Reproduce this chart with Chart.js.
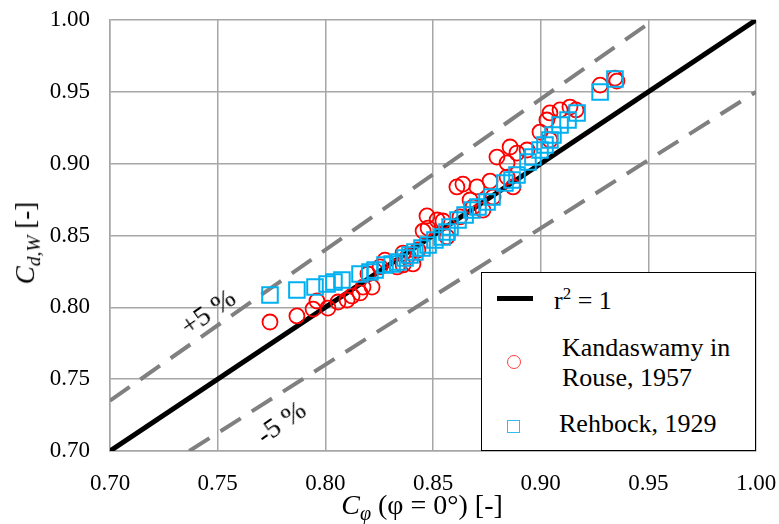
<!DOCTYPE html>
<html>
<head>
    <title>Cd,W vs C phi</title>
    <script src="https://cdn.jsdelivr.net/npm/chart.js"></script>
    <style>
        body {
            margin: 0;
            padding: 0;
            background: #fff;
            font-family: "Liberation Serif", serif;
        }
        #wrap {
            position: relative;
            width: 779px;
            height: 524px;
        }
        .lbl {
            position: absolute;
            color: #000;
            white-space: nowrap;
            line-height: 1;
            font-family: "Liberation Serif", serif;
        }
        .lbl i sub { font-size: 0.72em; }
        #legend {
            position: absolute;
            left: 481px;
            top: 272px;
            width: 273px;
            height: 177px;
            border: 1.5px solid #000;
            background: #fff;
            font-size: 26px;
            font-family: "Liberation Serif", serif;
        }
        #legend .item { position: absolute; line-height: 1; }
        .mk-line { position: absolute; left: 15px; top: 23px; width: 36px; height: 5px; background: #000; }
        .mk-circ { position: absolute; left: 25px; top: 82px; width: 12px; height: 12px; border: 1px solid #ff4040; border-radius: 50%; }
        .mk-sq { position: absolute; left: 25px; top: 147px; width: 11px; height: 11px; border: 1px solid #33bbee; }
    </style>
</head>
<body>

<div id="wrap">
  <canvas id="chart" width="779" height="524"></canvas>

  <!-- axis titles -->
  <div class="lbl" style="font-size:27px; left:28px; top:243px; transform:translate(-50%,-50%) rotate(-90deg);"><i>C<sub>d,W</sub></i> [-]</div>
  <div class="lbl" style="font-size:28px; left:422px; top:507px; transform:translate(-50%,-50%);"><i>C<sub>φ</sub></i> (φ = 0°) [-]</div>

  <!-- band labels -->
  <div class="lbl" style="font-size:28px; left:208px; top:312px; transform:translate(-50%,-50%) rotate(-35deg);">+5 %</div>
  <div class="lbl" style="font-size:28px; left:281px; top:422px; transform:translate(-50%,-50%) rotate(-35deg);">-5 %</div>

  <div id="legend">
    <div class="mk-line"></div>
    <div class="item" style="left:72px; top:13px;">r<sup style="font-size:0.65em">2</sup> = 1</div>
    <div class="mk-circ"></div>
    <div class="item" style="left:80px; top:60px; line-height:30px;">Kandaswamy in<br>Rouse, 1957</div>
    <div class="mk-sq"></div>
    <div class="item" style="left:77px; top:138px;">Rehbock, 1929</div>
  </div>
</div>

<script>
// Kandaswamy in Rouse, 1957 (red circles)
const kandX = [0.7743, 0.7868, 0.7943, 0.7961, 0.8012, 0.8059, 0.8101, 0.8124, 0.8161, 0.8175,
               0.8217, 0.8198, 0.8254, 0.8277, 0.8333, 0.8361, 0.8361, 0.8407, 0.8384, 0.8430,
               0.8454, 0.8472, 0.8519, 0.8477, 0.8565, 0.8546, 0.8611, 0.8639, 0.8672, 0.8625,
               0.8686, 0.8704, 0.8732, 0.8765, 0.8779, 0.8797, 0.8844, 0.8844, 0.8858, 0.8872,
               0.8890, 0.8937, 0.8997, 0.9029, 0.9043, 0.9043, 0.9090, 0.9136, 0.9164, 0.9276,
               0.9345, 0.9354];
const kandY = [0.7898, 0.7940, 0.7988, 0.8044, 0.7995, 0.8037, 0.8051, 0.8079, 0.8100, 0.8141,
               0.8141, 0.8232, 0.8281, 0.8329, 0.8281, 0.8295, 0.8378, 0.8302, 0.8357, 0.8399,
               0.8531, 0.8636, 0.8608, 0.8552, 0.8490, 0.8601, 0.8838, 0.8858, 0.8747, 0.8629,
               0.8698, 0.8838, 0.8677, 0.8879, 0.8768, 0.9046, 0.9005, 0.8907, 0.9116, 0.8838,
               0.9074, 0.9095, 0.9220, 0.9304, 0.9353, 0.9165, 0.9374, 0.9394, 0.9374, 0.9547,
               0.9596, 0.9575];

// Rehbock, 1929 (blue squares)
const rehbX = [0.7743, 0.7868, 0.7952, 0.8008, 0.8040, 0.8077, 0.8161, 0.8207, 0.8231, 0.8277,
               0.8310, 0.8337, 0.8370, 0.8393, 0.8416, 0.8449, 0.8477, 0.8509, 0.8542, 0.8565,
               0.8579, 0.8616, 0.8649, 0.8681, 0.8709, 0.8751, 0.8774, 0.8834, 0.8867, 0.8890,
               0.8941, 0.8964, 0.8997, 0.9020, 0.9043, 0.9057, 0.9090, 0.9127, 0.9169, 0.9276,
               0.9345];
const rehbY = [0.8086, 0.8121, 0.8141, 0.8162, 0.8176, 0.8190, 0.8232, 0.8246, 0.8260, 0.8295,
               0.8302, 0.8315, 0.8343, 0.8364, 0.8385, 0.8413, 0.8434, 0.8469, 0.8490, 0.8524,
               0.8559, 0.8608, 0.8643, 0.8677, 0.8698, 0.8733, 0.8768, 0.8865, 0.8886, 0.8921,
               0.9012, 0.9046, 0.9095, 0.9130, 0.9165, 0.9200, 0.9269, 0.9304, 0.9353, 0.9499,
               0.9589];

// reference lines (end points)
const unityX = [0.70, 1.00];
const unityY = [0.70, 1.00];
const plus5X = [0.70, 0.9524];
const plus5Y = [0.735, 1.00];
const minus5X = [0.7368, 1.00];
const minus5Y = [0.70, 0.95];

// axis ticks
const tickMin = 0.70;
const tickMax = 1.00;
const tickStep = 0.05;

function pts(xs, ys) {
    return xs.map((x, i) => ({ x: x, y: ys[i] }));
}

const gridGray = '#a6a6a6';

function drawChart() {
    Chart.defaults.font.family = '"Liberation Serif", serif';
    const tickFont = { family: '"Liberation Serif", serif', size: 23 };

    new Chart(document.getElementById('chart'), {
        type: 'scatter',
        data: {
            datasets: [
                {
                    label: 'Rehbock, 1929',
                    data: pts(rehbX, rehbY),
                    pointStyle: 'rect',
                    pointRadius: 11,
                    pointBorderWidth: 2,
                    pointBorderColor: '#00b0f0',
                    pointBackgroundColor: 'rgba(0,0,0,0)',
                    order: 1
                },
                {
                    label: 'Kandaswamy in Rouse, 1957',
                    data: pts(kandX, kandY),
                    pointStyle: 'circle',
                    pointRadius: 7.5,
                    pointBorderWidth: 1.8,
                    pointBorderColor: '#ff0000',
                    pointBackgroundColor: 'rgba(0,0,0,0)',
                    order: 2
                },
                {
                    label: 'r2 = 1',
                    type: 'line',
                    data: pts(unityX, unityY),
                    borderColor: '#000',
                    borderWidth: 5,
                    pointRadius: 0,
                    order: 3
                },
                {
                    label: '+5 %',
                    type: 'line',
                    data: pts(plus5X, plus5Y),
                    borderColor: '#808080',
                    borderWidth: 4,
                    borderDash: [24, 13],
                    pointRadius: 0,
                    order: 4
                },
                {
                    label: '-5 %',
                    type: 'line',
                    data: pts(minus5X, minus5Y),
                    borderColor: '#808080',
                    borderWidth: 4,
                    borderDash: [24, 13],
                    pointRadius: 0,
                    order: 4
                }
            ]
        },
        options: {
            responsive: false,
            animation: false,
            layout: { autoPadding: false, padding: { top: 20, right: 23, left: 0, bottom: 0 } },
            plugins: {
                legend: { display: false },
                tooltip: { enabled: false }
            },
            scales: {
                x: {
                    type: 'linear',
                    min: tickMin,
                    max: tickMax,
                    // fixed axis band, no extra room for edge labels
                    afterFit: (s) => { s.height = 73; s.paddingLeft = 0; s.paddingRight = 0; },
                    ticks: {
                        stepSize: tickStep,
                        color: '#000',
                        font: tickFont,
                        padding: 19,
                        callback: (v) => v.toFixed(2)
                    },
                    grid: { color: gridGray, lineWidth: 1.5, drawTicks: false },
                    border: { color: gridGray, width: 1.5 }
                },
                y: {
                    type: 'linear',
                    min: tickMin,
                    max: tickMax,
                    afterFit: (s) => { s.width = 110; s.paddingTop = 0; s.paddingBottom = 0; },
                    ticks: {
                        stepSize: tickStep,
                        color: '#000',
                        font: tickFont,
                        padding: 20,
                        callback: (v) => v.toFixed(2)
                    },
                    grid: { color: gridGray, lineWidth: 1.5, drawTicks: false },
                    border: { color: gridGray, width: 1.5 }
                }
            }
        }
    });
}

document.fonts.load('23px "Liberation Serif"').then(drawChart, drawChart);
</script>

</body>
</html>
